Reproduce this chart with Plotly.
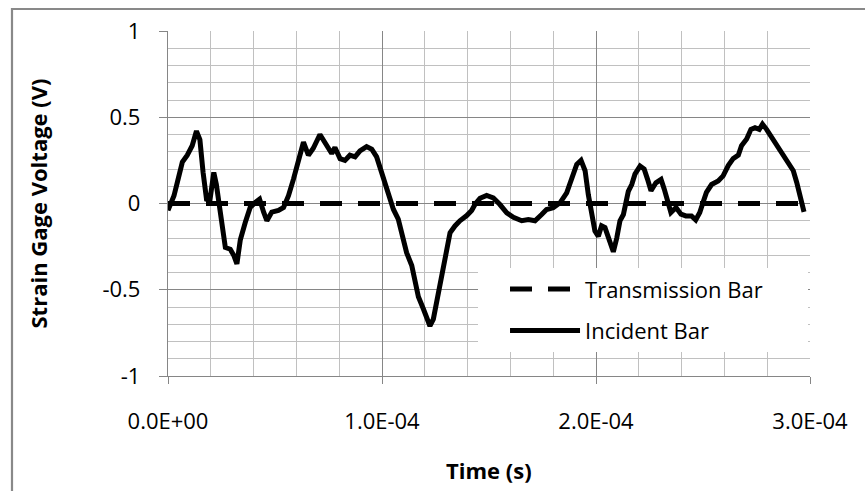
import plotly.graph_objects as go

# time in microseconds, incident bar voltage (V)
time_us = [0, 2.8, 4.3, 6.7, 9.0, 11.3, 13.3, 14.9, 16.4, 18.0, 19.6, 21.4, 22.6, 23.7, 25.3,
           26.8, 29.1, 30.7, 32.2, 33.8, 36.1, 38.4, 40.8, 42.8, 44.7, 46.2, 48.5, 51.6, 54.0,
           56.3, 58.6, 60.9, 63.3, 65.6, 67.9, 71.0, 74.1, 76.5, 78.0, 80.4, 82.7, 85.0, 87.4,
           89.7, 92.8, 95.2, 97.5, 99.0, 100.6, 102.2, 103.7, 105.3, 107.6, 109.2, 111.5, 113.9,
           115.4, 117.0, 119.3, 120.9, 122.4, 124.0, 126.3, 128.7, 130.2, 131.8, 134.1, 136.4,
           139.6, 141.9, 143.5, 145.8, 148.9, 152.0, 155.1, 158.3, 161.4, 165.3, 168.4, 171.5,
           174.6, 176.9, 180.0, 183.2, 186.3, 188.6, 191.0, 193.0, 194.9, 196.4, 198.0, 199.5,
           201.1, 202.6, 204.2, 205.8, 208.1, 209.7, 211.2, 212.8, 214.3, 215.1, 216.7, 218.2,
           220.6, 222.5, 224.1, 225.7, 228.0, 230.4, 231.9, 233.5, 235.0, 237.4, 239.7, 242.0,
           244.6, 246.6, 248.5, 250.0, 251.6, 254.0, 257.1, 259.4, 261.8, 264.1, 266.5, 268.0,
           270.4, 272.4, 274.3, 276.3, 277.8, 279.7, 282.1, 283.6, 286.0, 289.1, 292.2, 293.8,
           295.3, 297.2]
incident_v = [-0.04, 0.045, 0.12, 0.24, 0.28, 0.335, 0.42, 0.37, 0.18, 0.025, 0.02, 0.18, 0.11,
              0.006, -0.15, -0.255, -0.265, -0.30, -0.35, -0.21, -0.11, -0.023, 0.006, 0.025,
              -0.05, -0.10, -0.05, -0.04, -0.023, 0.045, 0.14, 0.26, 0.355, 0.28, 0.32, 0.40,
              0.335, 0.29, 0.325, 0.26, 0.25, 0.28, 0.27, 0.305, 0.33, 0.315, 0.27, 0.21, 0.15,
              0.10, 0.045, -0.033, -0.09, -0.17, -0.285, -0.36, -0.46, -0.54, -0.61, -0.67,
              -0.71, -0.67, -0.52, -0.34, -0.245, -0.17, -0.13, -0.10, -0.07, -0.04, -0.004,
              0.03, 0.047, 0.033, -0.006, -0.054, -0.08, -0.10, -0.093, -0.10, -0.064, -0.035,
              -0.025, 0.004, 0.062, 0.15, 0.227, 0.25, 0.19, 0.052, -0.064, -0.16, -0.19, -0.13,
              -0.14, -0.20, -0.28, -0.20, -0.10, -0.064, 0.014, 0.07, 0.11, 0.17, 0.217, 0.20,
              0.14, 0.074, 0.12, 0.14, 0.083, 0.006, -0.052, -0.023, -0.062, -0.072, -0.072,
              -0.095, -0.052, 0.006, 0.064, 0.11, 0.13, 0.16, 0.22, 0.26, 0.28, 0.335, 0.374,
              0.43, 0.44, 0.43, 0.46, 0.43, 0.385, 0.345, 0.306, 0.25, 0.19, 0.122, 0.045, -0.048]
transmission_v = [0.0 for _ in time_us]

time_s = [t * 1e-6 for t in time_us]

series_names = ["Transmission Bar", "Incident Bar"]

x_tickvals = [0, 1e-4, 2e-4, 3e-4]
x_ticktext = ["0.0E+00", "1.0E-04", "2.0E-04", "3.0E-04"]
y_tickvals = [-1, -0.5, 0, 0.5, 1]
y_ticktext = ["-1", "-0.5", "0", "0.5", "1"]

FONT = "Open Sans"
FS = 22
MAJOR = "#868686"
MINOR = "#c0c0c0"
PAD = "\u00a0" * 7  # right padding inside the legend box

fig = go.Figure()
fig.add_trace(go.Scatter(x=time_s, y=transmission_v, mode="lines", name=series_names[0] + PAD,
                         legendgroup="a",
                         line=dict(color="black", width=5, dash="22px,16px")))
fig.add_trace(go.Scatter(x=time_s, y=incident_v, mode="lines", name=series_names[1],
                         legendgroup="b",
                         line=dict(color="black", width=5)))

fig.update_layout(
    width=865, height=491,
    margin=dict(l=168, r=55, t=31, b=115),
    paper_bgcolor="white", plot_bgcolor="white",
    font=dict(family=FONT, size=FS, color="black"),
    showlegend=True,
    legend=dict(x=0.4829, xanchor="left", y=0.3125, yanchor="top", bgcolor="white",
                borderwidth=0, tracegroupgap=10, itemwidth=70, indentation=27,
                font=dict(family=FONT, size=FS, color="black")),
    xaxis=dict(range=[0, 3e-4], tickvals=x_tickvals, ticktext=x_ticktext,
               showgrid=True, gridcolor=MAJOR, gridwidth=1.3,
               showline=True, linecolor=MAJOR, linewidth=1.3,
               ticks="outside", ticklen=7, tickcolor=MAJOR, tickwidth=1.3,
               ticklabelstandoff=18, zeroline=False,
               minor=dict(dtick=2e-5, tick0=0, showgrid=True, gridcolor=MINOR,
                          gridwidth=1.3, ticks="")),
    yaxis=dict(range=[-1, 1], tickvals=y_tickvals, ticktext=y_ticktext,
               showgrid=True, gridcolor=MAJOR, gridwidth=1.3,
               showline=True, linecolor=MAJOR, linewidth=1.3,
               ticks="outside", ticklen=8, tickcolor=MAJOR, tickwidth=1.3,
               ticklabelstandoff=14, zeroline=False,
               minor=dict(dtick=0.1, tick0=0, showgrid=True, gridcolor=MINOR,
                          gridwidth=1.3, ticks="")),
    annotations=[
        dict(text="<b>Time (s)</b>", xref="paper", yref="paper", x=0.5, y=-0.2736,
             xanchor="center", yanchor="middle", showarrow=False,
             font=dict(family=FONT, size=FS, color="black")),
        dict(text="<b>Strain Gage Voltage (V)</b>", xref="paper", yref="paper",
             x=-0.2025, y=0.5, xanchor="center", yanchor="middle", textangle=-90,
             showarrow=False, font=dict(family=FONT, size=FS, color="black")),
    ],
    shapes=[
        dict(type="rect", xref="paper", yref="paper", x0=-0.243, x1=1.2, y0=-0.5, y1=1.0638,
             line=dict(color="#898989", width=2.2), fillcolor="rgba(0,0,0,0)", layer="below"),
    ],
)

fig.write_html("out.html")
